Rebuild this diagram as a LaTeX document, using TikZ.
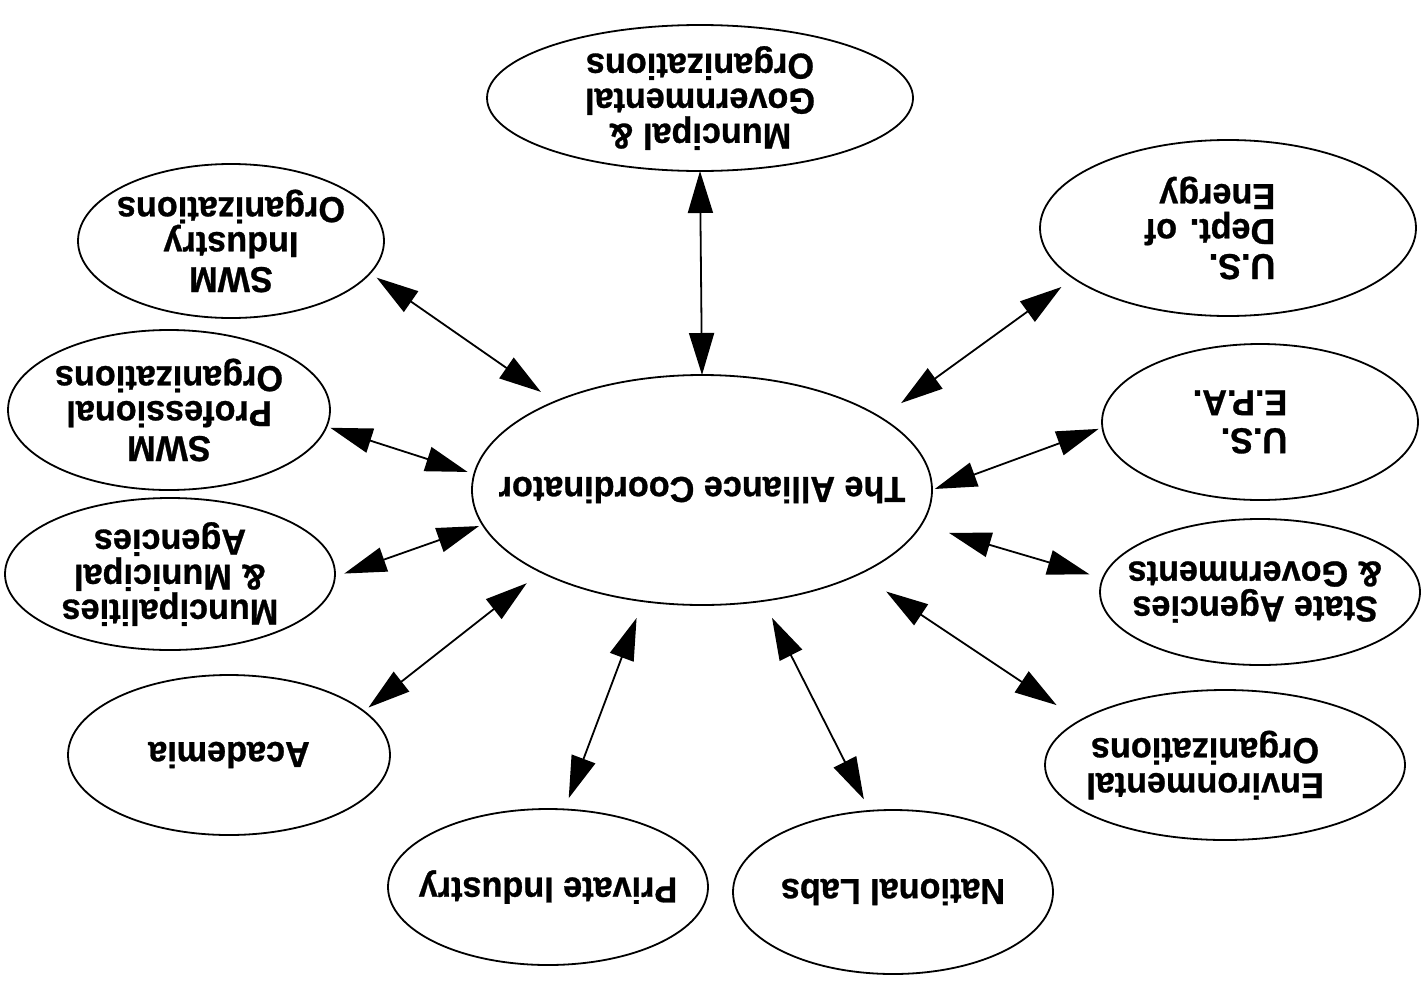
\documentclass[tikz,border=0pt]{standalone}
\usepackage{fontspec}
\setmainfont{Liberation Sans}
\newfontfamily\labfont{Liberation Sans Bold}[FakeBold=0.8,FakeStretch=0.95]
\usetikzlibrary{arrows.meta,shapes.geometric}
\tikzset{
  bub/.style={ellipse, draw=black, line width=1.8pt, inner sep=0pt, outer sep=0pt},
  lab/.style={rotate=180, align=center, inner sep=0pt, font=\labfont\fontsize{36}{35}\selectfont},
  link/.style={line width=1.8pt, {Triangle[length=42pt,width=25pt]}-{Triangle[length=42pt,width=25pt]}},
}
\begin{document}
\begin{tikzpicture}[x=1pt,y=-1pt]
\useasboundingbox (0,0) rectangle (1423,980);
\node[bub, minimum width=460pt, minimum height=230pt,
  label={[lab]center:The Alliance Coordinator}] (C) at (702,490) {};
\node[bub, minimum width=426pt, minimum height=146pt,
  label={[lab]center:Muncipal \&\\Governmental\\Organizations}] (T) at (700,98) {};
\node[bub, minimum width=376pt, minimum height=176pt,
  label={[xshift=-18pt, lab, align=left]center:U.S.\\Dept. of\\Energy}] (D) at (1228,228) {};
\node[bub, minimum width=316pt, minimum height=156pt,
  label={[xshift=-20pt, lab, align=left, font=\labfont\fontsize{36}{38}\selectfont]center:U.S.\\E.P.A.}] (E) at (1260,422) {};
\node[bub, minimum width=320pt, minimum height=146pt,
  label={[xshift=-5pt, lab]center:State Agencies\\\& Governments}] (S) at (1260,592) {};
\node[bub, minimum width=360pt, minimum height=150pt,
  label={[xshift=-20pt, lab]center:Environmental\\Organizations}] (V) at (1225,765) {};
\node[bub, minimum width=320pt, minimum height=164pt,
  label={[lab]center:National Labs}] (N) at (893,892) {};
\node[bub, minimum width=320pt, minimum height=156pt,
  label={[lab]center:Private Industry}] (P) at (548,887) {};
\node[bub, minimum width=322pt, minimum height=160pt,
  label={[lab]center:Academia}] (A) at (229,755) {};
\node[bub, minimum width=330pt, minimum height=152pt,
  label={[lab]center:Muncipalities\\\& Municipal\\Agencies}] (M) at (170,574) {};
\node[bub, minimum width=322pt, minimum height=160pt,
  label={[lab]center:SWM\\Professional\\Organizations}] (W) at (169,410) {};
\node[bub, minimum width=306pt, minimum height=154pt,
  label={[lab]center:SWM\\Industry\\Organizations}] (I) at (231,241) {};

\draw[link] (T.270) -- (C.90);
\draw[link, shorten <=8pt, shorten >=17pt] (I.-13) -- (C.149);
\draw[link, shorten <=4pt, shorten >=7pt] (W.-6.4) -- (C.176.3);
\draw[link, shorten <=10pt, shorten >=4pt] (M.-1.3) -- (C.189.5);
\draw[link, shorten <=6pt, shorten >=18pt] (A.18.7) -- (C.207.7);
\draw[link, shorten <=12pt, shorten >=18pt] (P.78) -- (C.242.2);
\draw[link, shorten <=13pt, shorten >=19pt] (N.106.6) -- (C.299.9);
\draw[link, shorten <=28pt, shorten >=32pt] (V.163.3) -- (C.332.5);
\draw[link, shorten <=14pt, shorten >=29pt] (S.175.7) -- (C.351.5);
\draw[link, shorten <=4pt, shorten >=3pt] (E.182.1) -- (C.0);
\draw[link, shorten <=15pt, shorten >=25pt] (D.198.9) -- (C.22.2);
\end{tikzpicture}
\end{document}
